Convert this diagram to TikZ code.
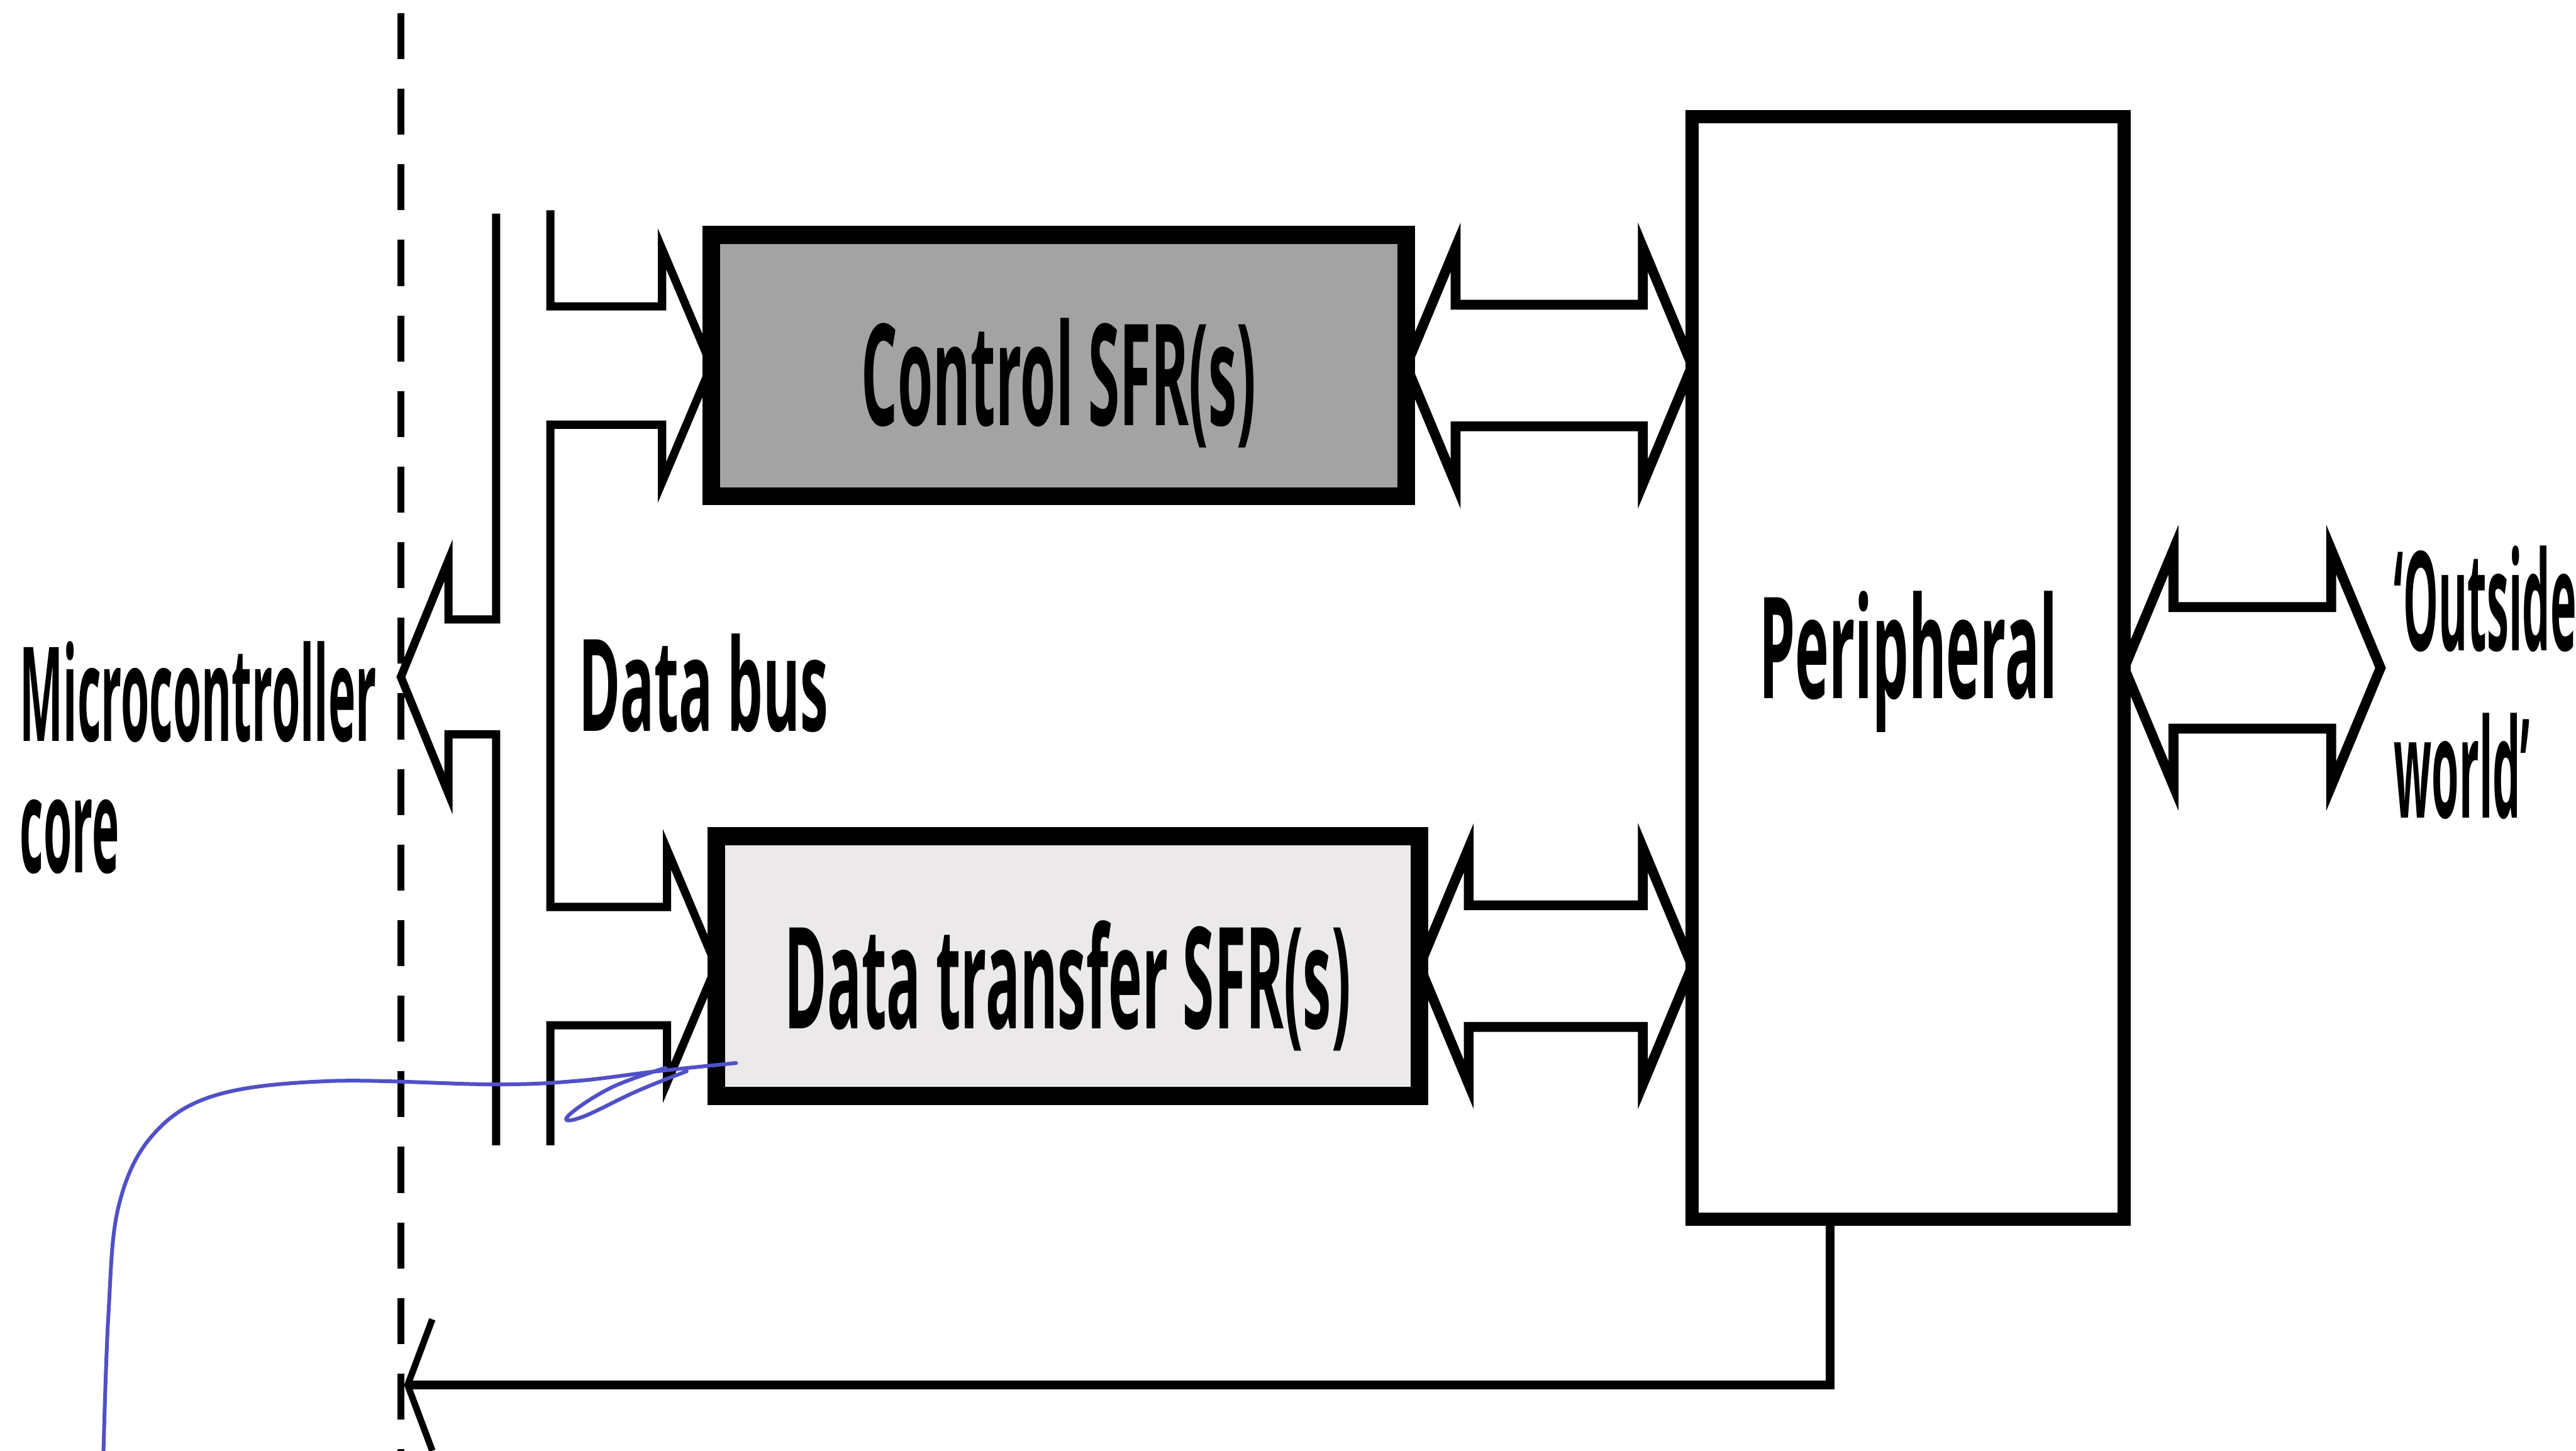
\documentclass[tikz,border=0pt]{standalone}
\usepackage{fontspec}
\usetikzlibrary{calc,arrows.meta}
\newfontfamily\boxfont[FakeStretch=0.405]{Open Sans}
\newfontfamily\corefont[FakeStretch=0.35]{Open Sans}
\newfontfamily\busfont[FakeStretch=0.44]{Open Sans}
\newfontfamily\worldfont[FakeStretch=0.32]{Open Sans}

\definecolor{ctrlgray}{HTML}{A3A3A3}
\definecolor{datagray}{HTML}{EBE9E9}
\definecolor{penblue}{HTML}{5050C8}

% hollow double-headed arrow between two points on one horizontal line
\newcommand{\hollowdouble}[2]{%
  \draw[fatarrow] let \p1=(#1), \p2=(#2) in
    (\p1) -- (\x1+30pt,\y1+72pt) -- (\x1+30pt,\y1+37pt)
    -- (\x2-30pt,\y2+37pt) -- (\x2-30pt,\y2+72pt) -- (\p2)
    -- (\x2-30pt,\y2-72pt) -- (\x2-30pt,\y2-37pt)
    -- (\x1+30pt,\y1-37pt) -- (\x1+30pt,\y1-72pt) -- cycle;}

\tikzset{
  sfr/.style={draw=black, line width=11pt, outer sep=0pt, inner sep=0pt,
    text depth=0pt, font=\boxfont\bfseries\fontsize{86}{90}\selectfont},
  periphbox/.style={draw=black, line width=8pt, outer sep=0pt, inner sep=0pt,
    text depth=0pt, font=\boxfont\bfseries\fontsize{86}{90}\selectfont},
  sidelabel/.style={inner sep=0pt, align=left, anchor=base west},
  rail/.style={line width=5pt, line join=miter},
  fatarrow/.style={line width=6pt, line join=miter},
  divider/.style={line width=4.5pt, dash pattern=on 28pt off 18pt},
  ret/.style={line width=5.5pt},
  pen/.style={penblue, line width=2.3pt, line cap=round}
}

\begin{document}
\begin{tikzpicture}[x=1pt, y=-1pt]
\useasboundingbox[fill=white] (0,0) rectangle (1568,883);

% boundary of the core
\coordinate (divtop) at (244,8);
\coordinate (divbot) at (244,883);
\draw[divider] (divtop) -- (divbot);

% registers and peripheral
\node[sfr, fill=ctrlgray, minimum width=423pt, minimum height=159pt,
      text height=73pt] (ctrl) at (644.5,222.5) {Control SFR(s)};
\node[sfr, fill=datagray, minimum width=428pt, minimum height=158pt,
      text height=76pt] (data) at (650,588) {Data transfer SFR(s)};
\node[periphbox, minimum width=263pt, minimum height=671pt,
      text height=37pt] (periph) at (1161.5,406.5) {Peripheral};

% labels (base anchor sits on the last line)
\node[sidelabel, font=\corefont\bfseries\fontsize{80}{80}\selectfont]
  (corelabel) at (12,531) {Microcontroller\\core};
\node[sidelabel, font=\busfont\bfseries\fontsize{78}{80}\selectfont]
  (buslabel) at (352,445) {Data bus};
\node[sidelabel, font=\worldfont\bfseries\fontsize{84}{102}\selectfont]
  (world) at (1457,498) {‘Outside\\world’};

% data bus rails
\coordinate (railL) at (302,130);
\coordinate (railR) at (335,128);
\coordinate (railend) at (0,697);
\coordinate (coretip) at (244,412);

\draw[rail] (railL) |- ($(coretip)+(29,-35)$) -- ++(0,-36) -- (coretip)
  -- ++(29,71) -- ++(0,-36) -| (railL |- railend);

\draw[rail] (railR) |- ($(ctrl.west)+(-30,-36)$) -- ++(0,-35) -- (ctrl.west)
  -- ++(-30,71) -- ++(0,-35) -| ($(railR |- data.west)+(0,-36)$)
  -- ($(data.west)+(-30,-36)$) -- ++(0,-35) -- (data.west)
  -- ++(-30,71) -- ++(0,-35) -| (railR |- railend);

% register <-> peripheral <-> outside world
\path (periph.east) ++(156,0) coordinate (owtip);
\hollowdouble{ctrl.east}{periph.west |- ctrl.east}
\hollowdouble{data.east}{periph.west |- data.east}
\hollowdouble{periph.east}{owtip}

% peripheral back to the core
\coordinate (rettip) at (246,843);
\draw[ret, -{Straight Barb[length=15pt, width=80pt, line width=4pt]}]
  ($(periph.south west)+(84,0)$) |- (rettip);

% ink mark
\draw[pen] plot[smooth, tension=0.6] coordinates {(63,883) (66,800) (72,735)
  (92,692) (130,667) (200,658) (300,660) (350,658) (400,652) (448,647)};
\draw[pen] plot[smooth, tension=0.7] coordinates {(405,650) (372,662) (346,679)
  (354,680) (388,664) (418,652)};
\end{tikzpicture}
\end{document}
